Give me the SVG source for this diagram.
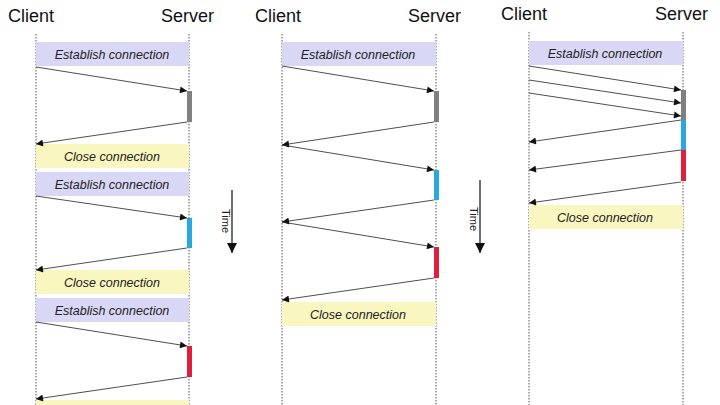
<svg xmlns="http://www.w3.org/2000/svg" width="720" height="405" viewBox="0 0 720 405">
<style>
text{font-family:"Liberation Sans",Arial,sans-serif}
.t{font-size:18px;fill:#111}
.l{font-size:12.5px;font-style:italic;fill:#222;text-anchor:middle}
.life{stroke:#555;stroke-width:1;stroke-dasharray:1.5 1.5}
.est{fill:#d8d8f6}
.cls{fill:#faf6c0}
.m{stroke:#222;stroke-width:0.8;fill:none;marker-end:url(#a)}
</style>
<defs>
<marker id="a" viewBox="0 0 10 10" refX="10" refY="5" markerWidth="9" markerHeight="7" orient="auto" markerUnits="userSpaceOnUse"><path d="M0,0L10,5L0,10z" fill="#111"/></marker>
<marker id="b" viewBox="0 0 10 10" refX="10" refY="5" markerWidth="10" markerHeight="10" orient="auto" markerUnits="userSpaceOnUse"><path d="M0,0L10,5L0,10z" fill="#111"/></marker>
</defs>
<rect width="720" height="405" fill="#fff"/>
<g id="panel1">
<text class="t" x="8" y="22">Client</text><text class="t" x="161" y="22">Server</text>
<line class="life" x1="36" y1="34" x2="36" y2="405"/><line class="life" x1="189" y1="34" x2="189" y2="405"/>
<g id="p1e1"><rect class="est" x="36" y="42" width="153" height="24"/><text class="l" x="112" y="59">Establish connection</text></g>
<rect x="187" y="91" width="5" height="31" fill="#808080"/>
<g id="p1c1"><rect class="cls" x="36" y="144" width="153" height="24"/><text class="l" x="112" y="161">Close connection</text></g>
<g id="p1e2"><rect class="est" x="36" y="172" width="153" height="24"/><text class="l" x="112" y="189">Establish connection</text></g>
<rect x="187" y="218" width="5" height="30" fill="#29a8e0"/>
<g id="p1c2"><rect class="cls" x="36" y="270" width="153" height="24"/><text class="l" x="112" y="287">Close connection</text></g>
<g id="p1e3"><rect class="est" x="36" y="298" width="153" height="24"/><text class="l" x="112" y="315">Establish connection</text></g>
<rect x="187" y="346" width="5" height="31" fill="#e0203a"/>
<rect class="cls" x="36" y="400" width="153" height="5"/>
<g id="time1"><line x1="232" y1="190" x2="232" y2="253" stroke="#111" stroke-width="1.2" marker-end="url(#b)"/><text x="0" y="0" font-size="11" fill="#222" transform="translate(222,209) rotate(90)">Time</text></g>
</g>
<g id="panel2">
<text class="t" x="255" y="22">Client</text><text class="t" x="408" y="22">Server</text>
<line class="life" x1="282" y1="34" x2="282" y2="405"/><line class="life" x1="436" y1="34" x2="436" y2="405"/>
<g id="p2e"><rect class="est" x="282" y="42" width="154" height="24"/><text class="l" x="358" y="59">Establish connection</text></g>
<rect x="434" y="91" width="5" height="31" fill="#808080"/>
<rect x="434" y="170" width="5" height="30" fill="#29a8e0"/>
<rect x="434" y="247" width="5" height="31" fill="#e0203a"/>
<g id="p2c"><rect class="cls" x="282" y="302" width="154" height="24"/><text class="l" x="358" y="319">Close connection</text></g>
<g id="time2"><line x1="480" y1="180" x2="480" y2="253" stroke="#111" stroke-width="1.2" marker-end="url(#b)"/><text x="0" y="0" font-size="11" fill="#222" transform="translate(470,207) rotate(90)">Time</text></g>
</g>
<g id="panel3">
<text class="t" x="501" y="20">Client</text><text class="t" x="655" y="20">Server</text>
<line class="life" x1="529" y1="32" x2="529" y2="405"/><line class="life" x1="683" y1="32" x2="683" y2="405"/>
<g id="p3e"><rect class="est" x="529" y="41" width="154" height="24"/><text class="l" x="605" y="58">Establish connection</text></g>
<rect x="681" y="90" width="5" height="30" fill="#808080"/>
<rect x="681" y="120" width="5" height="30" fill="#29a8e0"/>
<rect x="681" y="150" width="5" height="31" fill="#e0203a"/>
<g id="p3c"><rect class="cls" x="529" y="205" width="154" height="24"/><text class="l" x="605" y="222">Close connection</text></g>
</g>
<g id="connectors">
<line class="m" x1="36" y1="67" x2="187" y2="91"/>
<line class="m" x1="187" y1="122" x2="36" y2="144"/>
<line class="m" x1="36" y1="196" x2="187" y2="218"/>
<line class="m" x1="187" y1="248" x2="36" y2="270"/>
<line class="m" x1="36" y1="322" x2="187" y2="346"/>
<line class="m" x1="187" y1="377" x2="36" y2="399"/>
<line class="m" x1="282" y1="66" x2="434" y2="91"/>
<line class="m" x1="434" y1="122" x2="282" y2="145"/>
<line class="m" x1="282" y1="145" x2="434" y2="170"/>
<line class="m" x1="434" y1="200" x2="282" y2="222"/>
<line class="m" x1="282" y1="222" x2="434" y2="247"/>
<line class="m" x1="434" y1="278" x2="282" y2="300"/>
<line class="m" x1="529" y1="66" x2="681" y2="90"/>
<line class="m" x1="529" y1="80" x2="681" y2="103"/>
<line class="m" x1="529" y1="93" x2="681" y2="116"/>
<line class="m" x1="681" y1="120" x2="529" y2="142"/>
<line class="m" x1="681" y1="150" x2="529" y2="170"/>
<line class="m" x1="681" y1="182" x2="529" y2="203"/>
</g>
</svg>
